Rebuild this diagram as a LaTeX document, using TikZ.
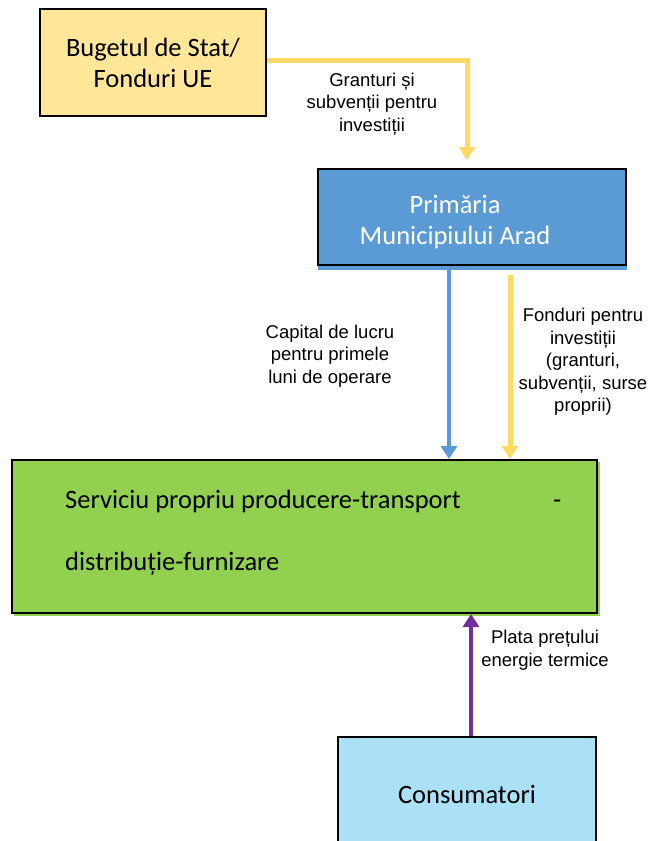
\documentclass[tikz,border=0pt]{standalone}
\usepackage{fontspec}
\setmainfont{Carlito}
\newfontfamily\arialf{Liberation Sans}
\usetikzlibrary{arrows.meta}
\definecolor{budget}{HTML}{FFE699}
\definecolor{yarr}{HTML}{FFD966}
\definecolor{bluebox}{HTML}{5B9BD5}
\definecolor{greenbox}{HTML}{92D050}
\definecolor{purp}{HTML}{7030A0}
\definecolor{consbox}{HTML}{ABE1F6}
\tikzset{
  bigtxt/.style={font=\fontsize{26.5}{31}\selectfont},
  boxnode/.style={draw=black, line width=2pt, inner sep=0pt, bigtxt, align=center},
  lbl/.style={font=\arialf\fontsize{18.5}{22.5}\selectfont, align=center, inner sep=0pt},
  flow/.style={line width=#1, -{Triangle[width=16pt,length=13pt]}},
}
\begin{document}
\begin{tikzpicture}[x=1pt,y=-1pt]
\clip (0,0) rectangle (653,841);
\fill[white] (0,0) rectangle (653,841);
% shadows
\fill[bluebox] (318,260) rectangle (627,270);
\fill[greenbox] (14,462) rectangle (600,616);
% boxes
\node[boxnode, fill=budget, minimum width=226pt, minimum height=107pt] (bug) at (153,62.5) {Bugetul de Stat/\\Fonduri UE};
\node[boxnode, fill=bluebox, minimum width=308pt, minimum height=96pt] (prim) at (472,217) {};
\node[bigtxt, text=white, align=center, inner sep=0pt] (primt) at (455,222) {Primăria\\Municipiului Arad};
\node[boxnode, fill=greenbox, minimum width=585pt, minimum height=153pt] (green) at (304.5,536.5) {};
\node[anchor=base west, inner sep=0pt, bigtxt] (g1) at (65,508) {Serviciu propriu producere-transport};
\node[anchor=base west, inner sep=0pt, bigtxt] (gd) at (553,508) {-};
\node[anchor=base west, inner sep=0pt, bigtxt] (g2) at (65,570) {distribuție-furnizare};
\node[boxnode, fill=consbox, minimum width=258pt, minimum height=114pt] (cons) at (467,794) {Consumatori};
% connectors
\coordinate (t1) at (467,160);
\draw[flow=5pt, yarr] ([yshift=2.5pt]bug.east) -| (t1);
\draw[flow=4.5pt, bluebox] ([xshift=-23pt,yshift=-4pt]prim.south) -- ([xshift=-23pt]prim.south |- green.north);
\draw[flow=5pt, yarr] ([xshift=38pt,yshift=-9pt]prim.south) -- ([xshift=38pt]prim.south |- green.north);
\draw[flow=4pt, purp] ([xshift=4pt]cons.north) -- ([xshift=4pt]cons.north |- green.south);
% labels
\node[lbl] (l1) at (372,104) {Granturi și\\subvenții pentru\\investiții};
\node[lbl] (l2) at (330,356) {Capital de lucru\\pentru primele\\luni de operare};
\node[lbl] (l3) at (583,362) {Fonduri pentru\\investiții\\(granturi,\\subvenții, surse\\proprii)};
\node[lbl] (l4) at (545,650) {Plata prețului\\energie termice};
\end{tikzpicture}
\end{document}
